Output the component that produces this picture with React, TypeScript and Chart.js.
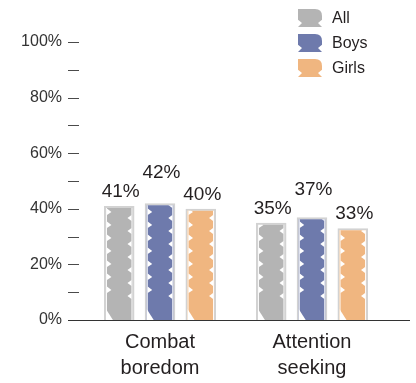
import { useEffect, useRef } from 'react';
import { Chart, registerables } from 'chart.js';

Chart.register(...registerables);

// Survey answers: share of respondents naming each reason
const categories = [['Combat', 'boredom'], ['Attention', 'seeking']];
const seriesNames = ['All', 'Boys', 'Girls'];
const allValues = [41, 35];
const boysValues = [42, 37];
const girlsValues = [40, 33];
const seriesColors = ['#b4b4b4', '#6e7aac', '#f0b680'];
const yMin = 0;
const yMax = 100;
const yStep = 10;
const yLabelEvery = 20;

const FONT = '"Liberation Sans", Arial, Helvetica, sans-serif';
const TEXT = '#231f20';
const OUTLINE = '#d2d2d2';

function leftNotch(ctx: CanvasRenderingContext2D, x: number, y: number) {
  ctx.beginPath();
  ctx.moveTo(x, y - 3.5);
  ctx.lineTo(x + 4.5, y);
  ctx.lineTo(x, y + 3);
  ctx.closePath();
  ctx.fill();
}

function rightNotch(ctx: CanvasRenderingContext2D, x: number, y: number) {
  ctx.beginPath();
  ctx.moveTo(x, y - 3);
  ctx.lineTo(x - 4, y);
  ctx.lineTo(x, y + 3);
  ctx.closePath();
  ctx.fill();
}

function drawLegendIcon(ctx: CanvasRenderingContext2D, x: number, y: number, w: number, h: number, color: string) {
  ctx.save();
  ctx.fillStyle = color;
  ctx.beginPath();
  ctx.moveTo(x, y);
  ctx.lineTo(x + w - 7, y);
  ctx.quadraticCurveTo(x + w, y, x + w, y + 7);
  ctx.lineTo(x + w, h * 0.6 + y);
  ctx.lineTo(x + w - 4, h * 0.78 + y);
  ctx.lineTo(x + w, y + h);
  ctx.lineTo(x, y + h);
  ctx.lineTo(x + 4, h * 0.78 + y);
  ctx.lineTo(x, h * 0.6 + y);
  ctx.closePath();
  ctx.fill();
  ctx.restore();
}

const decorPlugin = {
  id: 'barDecor',
  afterDatasetsDraw(chart: any) {
    const ctx: CanvasRenderingContext2D = chart.ctx;
    chart.data.datasets.forEach((_ds: any, di: number) => {
      const meta = chart.getDatasetMeta(di);
      meta.data.forEach((bar: any) => {
        const { x, y, base, width } = bar.getProps(['x', 'y', 'base', 'width'], true);
        const fl = x - width / 2 + 2;
        const fr = x + width / 2 - 2;
        ctx.save();
        ctx.beginPath();
        ctx.rect(fl, y + 2, fr - fl, base - y - 2);
        ctx.clip();
        ctx.fillStyle = '#ffffff';
        ctx.fillRect(fl, y, 1, base - y);
        ctx.fillRect(fr - 1, y, 1, base - y);
        for (let yy = base - 30; yy > y - 4; yy -= 13) leftNotch(ctx, fl + 1, yy);
        for (let yy = base - 24; yy > y - 4; yy -= 13) rightNotch(ctx, fr - 1, yy);
        // folded tail at the foot of each ribbon
        ctx.beginPath();
        ctx.moveTo(fl, base - 11);
        ctx.lineTo(fl + 7, base);
        ctx.lineTo(fl, base);
        ctx.closePath();
        ctx.fill();
        ctx.restore();
      });
    });
  },
  afterDraw(chart: any) {
    const ctx: CanvasRenderingContext2D = chart.ctx;
    const yScale = chart.scales.y;
    const area = chart.chartArea;

    // y tick marks and baseline
    ctx.save();
    ctx.strokeStyle = '#4a4a4a';
    ctx.lineWidth = 1;
    yScale.ticks.forEach((t: any) => {
      const py = Math.round(yScale.getPixelForValue(t.value)) + 0.5;
      ctx.beginPath();
      ctx.moveTo(68, py);
      ctx.lineTo(79, py);
      ctx.stroke();
    });
    const by = Math.round(yScale.getPixelForValue(0)) + 0.5;
    ctx.strokeStyle = '#333333';
    ctx.beginPath();
    ctx.moveTo(68, by);
    ctx.lineTo(area.right + 22, by);
    ctx.stroke();
    ctx.restore();

    // value labels; the middle series is lifted clear of its neighbours
    const fontSize = 19;
    const capH = fontSize * 0.716;
    const gap = 9;
    ctx.save();
    ctx.font = `${fontSize}px ${FONT}`;
    ctx.fillStyle = TEXT;
    ctx.textAlign = 'center';
    ctx.textBaseline = 'alphabetic';
    const metas = chart.data.datasets.map((_d: any, i: number) => chart.getDatasetMeta(i));
    const nCat = chart.data.labels.length;
    for (let c = 0; c < nCat; c++) {
      const natural = metas.map((m: any) => m.data[c].y - gap);
      metas.forEach((m: any, di: number) => {
        let bottom = natural[di];
        if (di === 1) {
          const neighbourTop = Math.min(natural[0], natural[2]) - capH;
          bottom = Math.min(bottom, neighbourTop - 5);
        }
        const v = chart.data.datasets[di].data[c];
        ctx.fillText(`${v}%`, m.data[c].x + 1.5, bottom);
      });
    }
    ctx.restore();

    // legend
    ctx.save();
    ctx.font = `16px ${FONT}`;
    ctx.fillStyle = TEXT;
    ctx.textAlign = 'left';
    ctx.textBaseline = 'middle';
    chart.data.datasets.forEach((ds: any, i: number) => {
      const cy = 18 + i * 25;
      drawLegendIcon(ctx, 298, cy - 9, 24, 18, ds.backgroundColor);
      ctx.fillText(ds.label, 332, cy + 1);
    });
    ctx.restore();
  },
};

export default function App() {
  const canvasRef = useRef<HTMLCanvasElement | null>(null);

  useEffect(() => {
    const canvas = canvasRef.current;
    if (!canvas) return;
    const seriesValues = [allValues, boysValues, girlsValues];
    const chart = new Chart(canvas, {
      type: 'bar',
      data: {
        labels: categories,
        datasets: seriesNames.map((name, i) => ({
          label: name,
          data: seriesValues[i],
          backgroundColor: seriesColors[i],
          borderColor: OUTLINE,
          borderWidth: 2,
          borderSkipped: 'start',
          categoryPercentage: 0.805,
          barPercentage: 0.75,
        })),
      },
      options: {
        animation: false,
        responsive: false,
        devicePixelRatio: 1,
        events: [],
        layout: { padding: { top: 42, right: 28, left: 0, bottom: 0 } },
        plugins: {
          legend: { display: false },
          tooltip: { enabled: false },
        },
        scales: {
          x: {
            grid: { display: false, drawTicks: false },
            border: { display: false },
            ticks: {
              color: TEXT,
              font: { family: FONT, size: 20, lineHeight: 1.33 },
              padding: 9,
              maxRotation: 0,
              autoSkip: false,
            },
            afterFit: (scale: any) => {
              scale.height = 63;
            },
          },
          y: {
            min: yMin,
            max: yMax,
            grid: { display: false, drawTicks: false },
            border: { display: false },
            ticks: {
              stepSize: yStep,
              color: '#333333',
              font: { family: FONT, size: 16 },
              padding: 22,
              callback: (v: any) => (Number(v) % yLabelEvery === 0 ? `${v}%` : ''),
            },
            afterFit: (scale: any) => {
              scale.width = 84;
            },
          },
        },
      },
      plugins: [decorPlugin],
    });
    return () => chart.destroy();
  }, []);

  return (
    <div style={{ position: 'fixed', left: 0, top: 0, width: 416, height: 383, background: '#ffffff' }}>
      <canvas ref={canvasRef} width={416} height={383} style={{ display: 'block' }} />
    </div>
  );
}
